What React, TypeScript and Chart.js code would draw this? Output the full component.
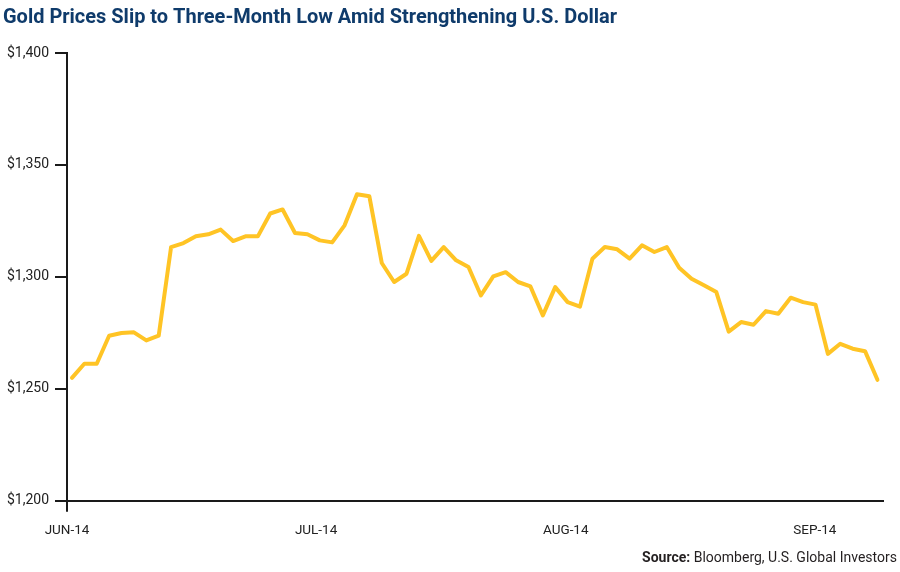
import React, { useEffect, useRef } from "react";
import { Chart, registerables } from "chart.js";

Chart.register(...registerables);

const TITLE = "Gold Prices Slip to Three-Month Low Amid Strengthening U.S. Dollar";
const SOURCE_BOLD = "Source:";
const SOURCE_TEXT = " Bloomberg, U.S. Global Investors";

// Daily gold price (USD/oz), trading days from early June to mid September 2014
const PRICES = [
  1254.9, 1261.2, 1261.2, 1273.7, 1274.9, 1275.2, 1271.6, 1273.7, 1313.3, 1315.1,
  1318.1, 1319.0, 1321.1, 1316.0, 1318.1, 1318.1, 1328.3, 1330.1, 1319.6, 1319.0,
  1316.3, 1315.4, 1323.0, 1336.9, 1336.0, 1306.2, 1297.7, 1301.4, 1318.3, 1307.1,
  1313.3, 1307.4, 1304.4, 1291.7, 1300.2, 1302.1, 1297.7, 1295.7, 1282.8, 1295.4,
  1288.7, 1286.7, 1308.1, 1313.3, 1312.3, 1308.1, 1314.1, 1311.1, 1313.3, 1304.1,
  1299.2, 1296.2, 1293.2, 1275.5, 1279.8, 1278.6, 1284.7, 1283.5, 1290.7, 1288.7,
  1287.6, 1265.6, 1270.1, 1267.9, 1266.8, 1254.0,
];

const MONTH_LABELS = ["JUN-14", "JUL-14", "AUG-14", "SEP-14"];
const MONTH_TICK_INDEX = [-0.4, 19.7, 39.85, 59.95];
const X_MIN = -0.4;
const X_MAX = 65.45;

const Y_MIN = 1200;
const Y_MAX = 1400;
const Y_STEP = 50;

const textPlugin = {
  id: "textPlugin",
  afterDraw(chart: any) {
    const ctx = chart.ctx as CanvasRenderingContext2D;
    ctx.save();
    // Title
    ctx.font = "bold 21px Roboto";
    ctx.fillStyle = "#0f3b6b";
    ctx.textBaseline = "alphabetic";
    ctx.textAlign = "left";
    const tw = ctx.measureText(TITLE).width;
    const targetW = 614;
    ctx.save();
    ctx.translate(3, 23);
    ctx.scale(targetW / tw, 1);
    ctx.fillText(TITLE, 0, 0);
    ctx.restore();

    // Source
    ctx.fillStyle = "#231f20";
    ctx.font = "bold 15px Roboto";
    const bw = ctx.measureText(SOURCE_BOLD).width;
    ctx.font = "15px Roboto";
    const rw = ctx.measureText(SOURCE_TEXT).width;
    const total = bw + rw;
    const srcTarget = 255;
    const s = srcTarget / total;
    ctx.save();
    ctx.translate(897 - srcTarget, 562);
    ctx.scale(s, 1);
    ctx.font = "bold 15px Roboto";
    ctx.fillText(SOURCE_BOLD, 0, 0);
    ctx.font = "15px Roboto";
    ctx.fillText(SOURCE_TEXT, bw, 0);
    ctx.restore();
    ctx.restore();
  },
};

export default function App() {
  const ref = useRef<HTMLCanvasElement | null>(null);

  useEffect(() => {
    if (!ref.current) return;
    const chart = new Chart(ref.current, {
      type: "line",
      data: {
        datasets: [
          {
            data: PRICES.map((v, i) => ({ x: i, y: v })),
            borderColor: "#ffc425",
            borderWidth: 4,
            pointRadius: 0,
            tension: 0,
            fill: false,
            borderJoinStyle: "round",
            borderCapStyle: "round",
          },
        ],
      },
      options: {
        animation: false,
        responsive: false,
        maintainAspectRatio: false,
        layout: { padding: { top: 53, right: 17, bottom: 0, left: 0 } },
        plugins: {
          legend: { display: false },
          tooltip: { enabled: false },
          title: { display: false },
        },
        scales: {
          x: {
            type: "linear",
            min: X_MIN,
            max: X_MAX,
            afterBuildTicks: (scale: any) => {
              scale.ticks = MONTH_TICK_INDEX.map((v) => ({ value: v }));
            },
            afterFit: (scale: any) => {
              scale.height = 572 - 500.7;
            },
            border: { display: true, color: "#1a1a1a", width: 2 },
            grid: {
              drawOnChartArea: false,
              drawTicks: true,
              tickLength: 11,
              color: (c: any) => (c.index === 0 ? "#1a1a1a" : "rgba(0,0,0,0)"),
              lineWidth: 2,
            },
            ticks: {
              autoSkip: false,
              maxRotation: 0,
              padding: 11,
              color: "#222222",
              font: { family: "Roboto", size: 13.5 },
              callback: (_v: any, i: number) => MONTH_LABELS[i],
            },
          },
          y: {
            type: "linear",
            min: Y_MIN,
            max: Y_MAX,
            afterFit: (scale: any) => {
              scale.width = 67;
            },
            border: { display: true, color: "#1a1a1a", width: 2 },
            grid: {
              drawOnChartArea: false,
              drawTicks: true,
              tickLength: 12,
              color: "#1a1a1a",
              lineWidth: 2,
            },
            ticks: {
              stepSize: Y_STEP,
              padding: 6,
              color: "#222222",
              font: { family: "Roboto", size: 14 },
              callback: (v: any) => "$" + Number(v).toLocaleString("en-US"),
            },
          },
        },
      },
      plugins: [textPlugin],
    } as any);
    return () => chart.destroy();
  }, []);

  return (
    <div style={{ position: "absolute", left: 0, top: 0, width: 900, height: 572, background: "#ffffff" }}>
      <canvas ref={ref} width={900} height={572} style={{ width: 900, height: 572, display: "block" }} />
    </div>
  );
}
